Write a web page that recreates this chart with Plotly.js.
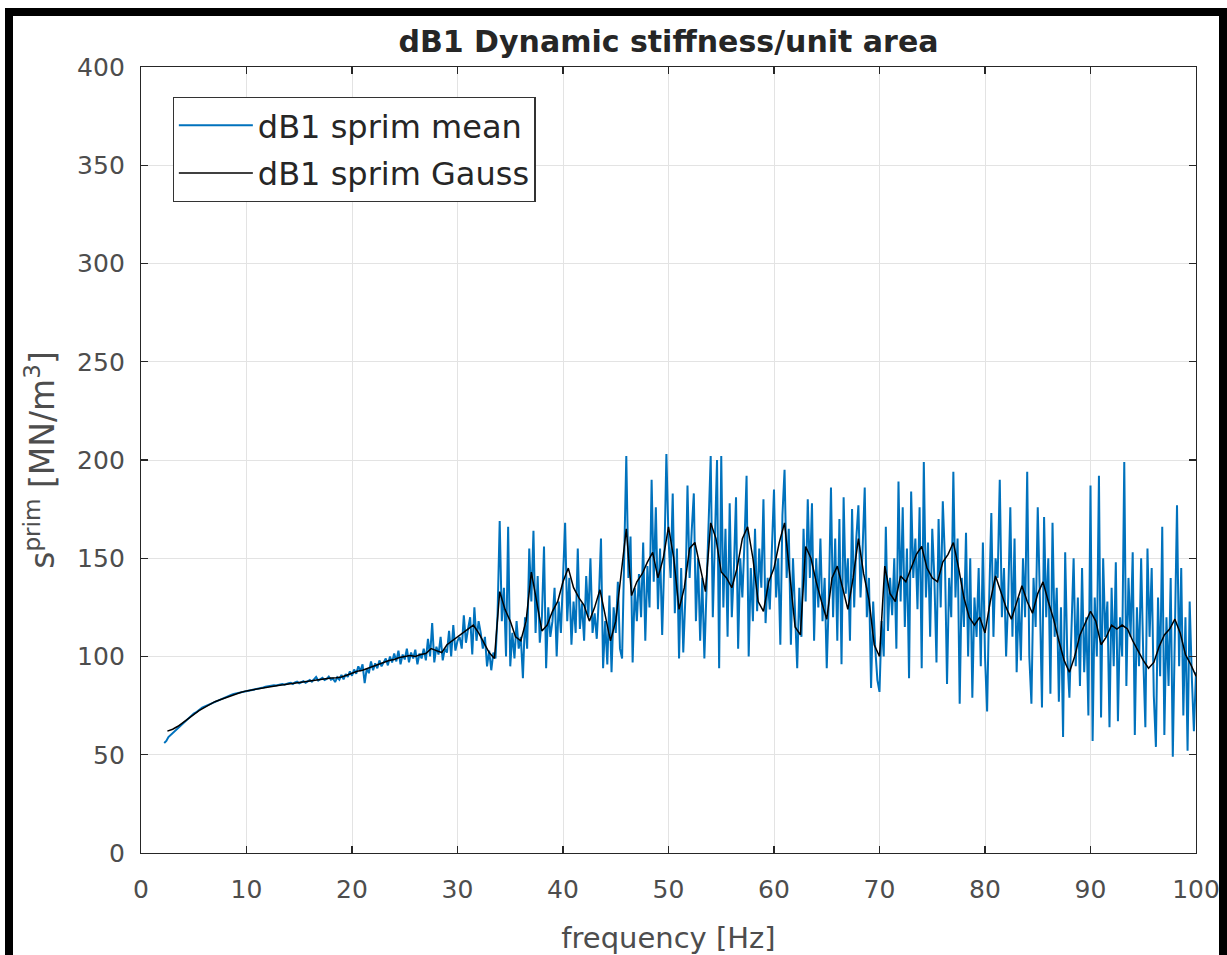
<!DOCTYPE html>
<html>
<head>
<meta charset="utf-8">
<script src="https://cdn.plot.ly/plotly-3.0.1.min.js"></script>
<style>
  html, body { margin: 0; padding: 0; background: #fff; }
  #wrap { position: relative; width: 1227px; height: 955px; overflow: hidden; }
  #chart { width: 1227px; height: 955px; }
  #frame { position: absolute; left: 5px; top: 8px; width: 1206px; height: 990px;
           border: 8px solid #000; pointer-events: none; }
</style>
</head>
<body>
<div id="wrap">
  <div id="chart"></div>
  <div id="frame"></div>
</div>
<script>
// frequency grid of the mean spectrum: start 2.2 Hz, step 0.2 Hz
const meanStart = 2.2, meanStep = 0.2;
// dB1 sprim mean [MN/m^3], rows of 1 Hz (5 samples)
const sprimMean = [
  56, 57, 59, 60, 61,
  62, 63, 64, 65, 66,
  67, 68, 69, 70, 71,
  71.5, 72.5, 73, 74, 74.5,
  75, 75.5, 76, 76.5, 77,
  77.5, 78, 78.5, 79, 79.5,
  80, 80.2, 80.6, 81, 81.2,
  81.5, 81.8, 82, 82.2, 82.4,
  82.6, 82.8, 83.2, 83.4, 83.6,
  83.8, 84, 84.2, 84.6, 84.8,
  85, 85.2, 85.4, 85.2, 85.6,
  85.8, 86, 85.6, 86.2, 86.4,
  86.6, 86, 86.8, 87.2, 86.4,
  86.8, 87.4, 86.6, 87.2, 88,
  87.2, 88.4, 89.6, 87.8, 88.4,
  89.2, 88, 88.6, 89.8, 88.2,
  88.8, 87, 89.4, 88.2, 90.6,
  88.4, 91, 89.6, 92.4, 90.2,
  93.4, 91.2, 95, 92.6, 96,
  86.5, 94, 91.5, 97.5, 93,
  96.5, 94, 98, 95, 97,
  99, 95.5, 100, 97, 101.5,
  97.5, 103, 96, 101, 98.5,
  104, 97, 102, 99, 103.5,
  96, 101.5, 99, 104, 98,
  109, 100, 117, 97, 105,
  101, 110, 98, 104, 102,
  113, 100, 116, 103, 108,
  110, 104, 121, 107, 114,
  120, 101, 125, 108, 118,
  112, 104, 110, 95, 103,
  93, 102, 99, 122, 169,
  118, 135, 100, 166, 95,
  112, 99, 118, 104, 110,
  89, 120, 104, 155, 128,
  164, 112, 141, 107, 120,
  156, 94, 125, 110, 118,
  135, 100, 128, 112, 146,
  168, 118, 140, 106, 128,
  112, 155, 114, 127, 108,
  141, 120, 150, 112, 122,
  109, 130, 160, 94, 118,
  96, 131, 92, 125, 112,
  138, 104, 99, 148, 202,
  140, 161, 97, 135, 118,
  142, 120, 158, 108, 146,
  125, 190, 138, 176, 124,
  155, 111, 148, 203, 160,
  140, 183, 122, 155, 99,
  145, 102, 130, 187, 140,
  164, 183, 118, 150, 108,
  140, 99, 133, 170, 202,
  120, 168, 200, 94, 202,
  125, 165, 110, 178, 120,
  145, 181, 104, 150, 130,
  158, 192, 100, 145, 118,
  165, 123, 155, 135, 180,
  117, 140, 124, 160, 185,
  130, 150, 106, 172, 195,
  140, 165, 106, 150, 120,
  94, 135, 110, 165, 128,
  180, 140, 178, 108, 150,
  125, 160, 118, 140, 94,
  130, 186, 120, 160, 108,
  170, 96, 181, 132, 150,
  108, 175, 125, 160, 177,
  130, 155, 186, 120, 140,
  84, 128, 104, 88, 82,
  118, 100, 166, 113, 140,
  121, 150, 104, 189, 128,
  176, 115, 155, 89, 184,
  140, 160, 124, 176, 94,
  199, 130, 158, 110, 165,
  140, 97, 170, 125, 179,
  150, 86, 140, 120, 194,
  130, 160, 76, 140, 115,
  163, 100, 150, 79, 130,
  110, 145, 95, 158, 100,
  72, 130, 173, 110, 150,
  140, 190, 120, 145, 100,
  130, 176, 110, 160, 92,
  130, 98, 150, 120, 194,
  100, 76, 140, 115, 176,
  130, 74, 171, 120, 150,
  81, 168, 110, 135, 77,
  125, 59, 153, 100, 79,
  120, 150, 95, 130, 85,
  145, 92, 120, 70, 187,
  57, 130, 100, 192, 69,
  150, 110, 128, 64, 135,
  95, 148, 67, 120, 100,
  199, 85, 140, 110, 153,
  60, 125, 95, 150, 100,
  64, 155, 110, 145, 80,
  54, 130, 90, 166, 60,
  120, 85, 140, 49, 110,
  177, 95, 145, 70, 120,
  52, 128, 90, 62, 92
];

// frequency grid of the Gauss-smoothed curve: start 2.5 Hz, step 0.5 Hz
const gaussStart = 2.5, gaussStep = 0.5;
// dB1 sprim Gauss [MN/m^3], rows of 5 Hz (10 samples)
const sprimGauss = [
  62, 63, 64.5, 66.5, 68.5, 70.5, 72.5, 74, 75.5, 77,
  78, 79, 80, 81, 81.8, 82.5, 83, 83.5, 84, 84.5,
  85, 85.3, 85.6, 86, 86.3, 86.6, 87, 87.3, 87.8, 88.2,
  88.5, 89, 89.2, 89.6, 90.5, 91.5, 92.5, 93, 94, 95,
  96, 97, 98, 98.5, 99.5, 100, 100.5, 100, 101, 101.5,
  104, 103, 102, 106, 108, 110, 112, 114, 116, 112,
  107, 102, 99, 133, 124, 118, 110, 108, 118, 143,
  128, 113, 116, 123, 128, 138, 145, 135, 130, 126,
  118, 125, 134, 120, 108, 118, 140, 165, 131, 138,
  142, 148, 153, 140, 150, 166, 150, 124, 135, 155,
  158, 145, 133, 168, 160, 143, 140, 135, 145, 160,
  166, 150, 128, 123, 138, 145, 158, 168, 140, 115,
  111, 156, 150, 138, 128, 119, 140, 146, 135, 124,
  140, 160, 142, 129, 106, 100, 146, 132, 128, 141,
  138, 145, 152, 156, 145, 140, 138, 148, 152, 158,
  145, 130, 120, 116, 120, 112, 128, 141, 133, 125,
  119, 128, 136, 128, 122, 132, 138, 128, 119, 108,
  98, 92, 100, 111, 117, 123, 118, 106, 110, 116,
  114, 116, 114, 108, 103, 98, 94, 97, 105, 111,
  114, 119, 112, 101, 96, 90
];

const xTicks = [0, 10, 20, 30, 40, 50, 60, 70, 80, 90, 100];
const yTicks = [0, 50, 100, 150, 200, 250, 300, 350, 400];

const FONT = 'DejaVu Sans, Liberation Sans, Arial, sans-serif';

const traces = [
  {
    type: 'scatter', mode: 'lines', name: 'dB1 sprim mean',
    x0: meanStart, dx: meanStep, y: sprimMean,
    line: { color: '#0072BD', width: 2 },
    legendgroup: 'a'
  },
  {
    type: 'scatter', mode: 'lines', name: 'dB1 sprim Gauss',
    x0: gaussStart, dx: gaussStep, y: sprimGauss,
    line: { color: '#000000', width: 1.5 },
    legendgroup: 'b'
  }
];

const axisCommon = {
  showline: true, linecolor: '#262626', linewidth: 1.2, mirror: 'ticks',
  ticks: 'inside', ticklen: 7, tickcolor: '#262626', tickwidth: 1.2,
  showgrid: true, gridcolor: '#e3e3e3', gridwidth: 1,
  zeroline: false,
  tickfont: { family: FONT, size: 25, color: '#4d4d4d' }
};

const layout = {
  width: 1227, height: 955,
  margin: { l: 141, r: 31, t: 67, b: 102 },
  paper_bgcolor: '#ffffff', plot_bgcolor: '#ffffff',
  title: {
    text: '<b>dB1 Dynamic stiffness/unit area</b>',
    font: { family: FONT, size: 30, color: '#262626' },
    x: 0.5448, xanchor: 'center', y: 0.957, yanchor: 'middle'
  },
  xaxis: Object.assign({}, axisCommon, {
    range: [0, 100], tickvals: xTicks, ticktext: xTicks.map(String),
    ticklabelstandoff: 14,
    title: { text: 'frequency [Hz]', standoff: 25,
             font: { family: FONT, size: 29, color: '#4d4d4d' } }
  }),
  yaxis: Object.assign({}, axisCommon, {
    range: [0, 400], tickvals: yTicks, ticktext: yTicks.map(String),
    ticklabelstandoff: 10,
    title: { text: 's<sup>prim</sup> [MN/m<sup>3</sup>]', standoff: 12,
             font: { family: FONT, size: 33, color: '#4d4d4d' } }
  }),
  showlegend: true,
  legend: {
    x: 0.030, y: 0.962, xanchor: 'left', yanchor: 'top',
    bgcolor: '#ffffff', bordercolor: '#333333', borderwidth: 1.2,
    font: { family: FONT, size: 32, color: '#262626' },
    tracegroupgap: 3, itemwidth: 74
  }
};

Plotly.newPlot('chart', traces, layout, { displayModeBar: false, staticPlot: true });
</script>
</body>
</html>
